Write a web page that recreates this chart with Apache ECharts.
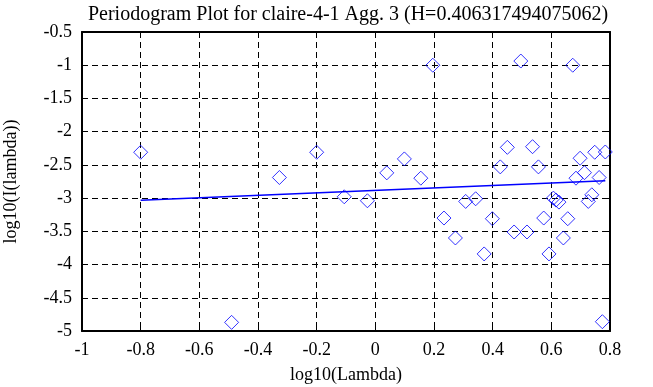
<!DOCTYPE html>
<html>
<head>
<meta charset="utf-8">
<script src="https://cdn.jsdelivr.net/npm/echarts@6/dist/echarts.min.js"></script>
<style>
html,body{margin:0;padding:0;background:#fff;}
#chart{width:653px;height:387px;}
</style>
</head>
<body>
<div id="chart"></div>
<script>
const titleText = 'Periodogram Plot for claire-4-1 Agg. 3 (H=0.406317494075062)';
const xName = 'log10(Lambda)';
const yName = 'log10(I(lambda))';

const pointX = [-0.8, -0.49, -0.327, -0.2, -0.106, -0.027, 0.039, 0.099, 0.155, 0.196,
  0.234, 0.273, 0.308, 0.342, 0.371, 0.399, 0.426, 0.450, 0.473, 0.496,
  0.517, 0.536, 0.556, 0.574, 0.592, 0.607, 0.616, 0.626, 0.641, 0.656,
  0.673, 0.684, 0.698, 0.713, 0.726, 0.738, 0.748, 0.763, 0.774, 0.784];
const pointY = [-2.31, -4.87, -2.69, -2.31, -2.98, -3.04, -2.62, -2.41, -2.70, -1.0,
  -3.30, -3.60, -3.05, -3.01, -3.84, -3.31, -2.53, -2.236, -3.51, -0.937,
  -3.51, -2.226, -2.53, -3.30, -3.84, -3.00, -3.03, -3.06, -3.60, -3.31,
  -1.0, -2.70, -2.40, -2.617, -3.05, -2.95, -2.31, -2.69, -4.86, -2.306];

const fitX = [-0.8, 0.784];
const fitY = [-3.033, -2.737];

const xMin = -1, xMax = 0.8, xStep = 0.2;
const yMin = -5, yMax = -0.5, yStep = 0.5;

const font = '"Liberation Serif", "Times New Roman", serif';
const points = pointX.map((x, i) => [x, pointY[i]]);
const fit = fitX.map((x, i) => [x, fitY[i]]);

const fmt = v => {
  const r = Math.round(v * 10) / 10;
  return (Object.is(r, -0) ? 0 : r).toString();
};

const splitStyle = {show: true, lineStyle: {color: '#000', width: 1, type: [6, 4]}};
const axisLineStyle = {show: true, onZero: false, lineStyle: {color: '#000', width: 2}};
const tickStyle = {show: true, inside: true, length: 6, lineStyle: {color: '#000', width: 1}};
const labelStyle = {color: '#000', fontFamily: font, fontSize: 18};

const chart = echarts.init(document.getElementById('chart'));
chart.setOption({
  animation: false,
  backgroundColor: '#fff',
  title: {
    text: titleText, left: 343, top: 0, textAlign: 'center',
    textStyle: {fontFamily: font, fontSize: 20, fontWeight: 'normal', color: '#000'}
  },
  grid: {left: 82, right: 43, top: 32, bottom: 56, containLabel: false, outerBoundsMode: 'none'},
  xAxis: [
    {type: 'value', min: xMin, max: xMax, interval: xStep, position: 'bottom',
     axisLine: axisLineStyle, axisTick: tickStyle, splitLine: splitStyle,
     axisLabel: Object.assign({margin: 10, formatter: fmt}, labelStyle),
     name: xName, nameLocation: 'middle', nameGap: 35,
     nameTextStyle: {fontFamily: font, fontSize: 18, color: '#000'}},
    {type: 'value', min: xMin, max: xMax, interval: xStep, position: 'top',
     axisLine: axisLineStyle, axisTick: tickStyle, splitLine: {show: false},
     axisLabel: {show: false}}
  ],
  yAxis: [
    {type: 'value', min: yMin, max: yMax, interval: yStep, position: 'left',
     axisLine: axisLineStyle, axisTick: tickStyle, splitLine: splitStyle,
     axisLabel: Object.assign({margin: 10, formatter: fmt}, labelStyle),
     name: yName, nameLocation: 'middle', nameGap: 62, nameRotate: 90,
     nameTextStyle: {fontFamily: font, fontSize: 18, color: '#000'}},
    {type: 'value', min: yMin, max: yMax, interval: yStep, position: 'right',
     axisLine: axisLineStyle, axisTick: tickStyle, splitLine: {show: false},
     axisLabel: {show: false}}
  ],
  series: [
    {type: 'scatter', xAxisIndex: 0, yAxisIndex: 0, data: points,
     symbol: 'diamond', symbolSize: 14,
     itemStyle: {color: 'rgba(0,0,0,0)', borderColor: '#0000ff', borderWidth: 1}},
    {type: 'line', xAxisIndex: 0, yAxisIndex: 0, data: fit, symbol: 'none',
     lineStyle: {color: '#0000ff', width: 1.5}}
  ]
});
</script>
</body>
</html>
